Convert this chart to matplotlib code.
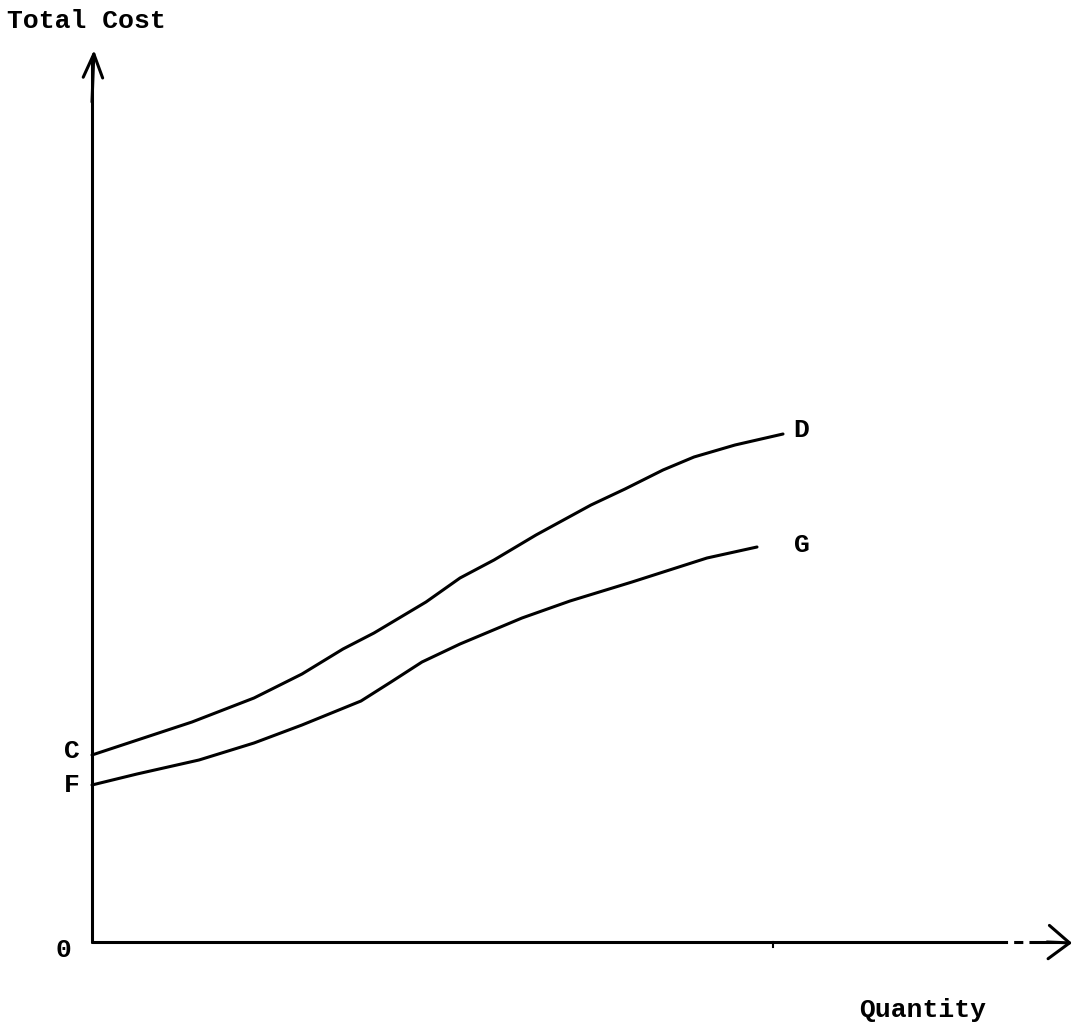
import matplotlib
matplotlib.use("Agg")
import matplotlib.pyplot as plt

# Curve C-D (upper total cost)
qty_upper = [0.0, 1.00, 1.62, 2.10, 2.51, 2.82, 3.34, 3.68, 4.02, 4.44,
             4.99, 5.33, 5.71, 6.02, 6.43, 6.91]
cost_upper = [1.87, 2.20, 2.44, 2.68, 2.93, 3.09, 3.40, 3.64, 3.82, 4.07,
              4.37, 4.53, 4.72, 4.85, 4.97, 5.08]

# Curve F-G (lower total cost)
qty_lower = [0.0, 0.45, 1.07, 1.62, 2.10, 2.69, 2.99, 3.30, 3.68, 4.30,
             4.78, 5.40, 6.15, 6.65]
cost_lower = [1.57, 1.68, 1.82, 1.99, 2.17, 2.41, 2.60, 2.80, 2.98, 3.24,
              3.41, 3.60, 3.84, 3.95]

fig = plt.figure(figsize=(10.77, 10.29), dpi=100)
ax = fig.add_axes([0, 0, 1, 1])
ax.set_xlim(-0.92, 9.85)
ax.set_ylim(-0.87, 9.42)
ax.axis("off")

mono = "Liberation Mono"
lw = 2.2
fs = 19

# y axis with open arrow head
ax.plot([0, 0], [0, 8.85], color="black", lw=lw, solid_capstyle="round")
ax.annotate("", xy=(0.02, 8.92), xytext=(0.0, 8.4),
            arrowprops=dict(arrowstyle="->,head_length=1.7,head_width=0.7",
                            lw=lw, color="black", shrinkA=0, shrinkB=0))
# x axis, solid then dashed towards the arrow
ax.plot([0, 8.85], [0, 0], color="black", lw=lw, solid_capstyle="round")
ax.plot([8.85, 9.75], [0, 0], color="black", lw=lw, ls=(0, (10, 2, 3, 2)))
ax.annotate("", xy=(9.80, -0.01), xytext=(9.55, 0.0),
            arrowprops=dict(arrowstyle="->,head_length=1.5,head_width=1.2",
                            lw=lw, color="black", shrinkA=0, shrinkB=0))
ax.plot([6.81, 6.81], [0, -0.05], color="black", lw=1.5)

# curves
ax.plot(qty_upper, cost_upper, color="black", lw=lw, solid_capstyle="round",
        solid_joinstyle="round")
ax.plot(qty_lower, cost_lower, color="black", lw=lw, solid_capstyle="round",
        solid_joinstyle="round")

# labels
kw = dict(fontfamily=mono, fontweight="bold", fontsize=fs, va="center")
ax.text(-0.20, cost_upper[0] + 0.04, "C", ha="center", **kw)
ax.text(-0.20, cost_lower[0], "F", ha="center", **kw)
ax.text(-0.29, -0.08, "0", ha="center", **kw)
ax.text(qty_upper[-1] + 0.18, cost_upper[-1] + 0.04, "D", ha="center", **kw)
ax.text(qty_lower[-1] + 0.45, cost_lower[-1] + 0.02, "G", ha="center", **kw)
ax.text(-0.85, 9.21, "Total Cost", ha="left", **kw)
ax.text(8.31, -0.68, "Quantity", ha="center", **kw)

fig.savefig("out.png", dpi=100, facecolor="white")
